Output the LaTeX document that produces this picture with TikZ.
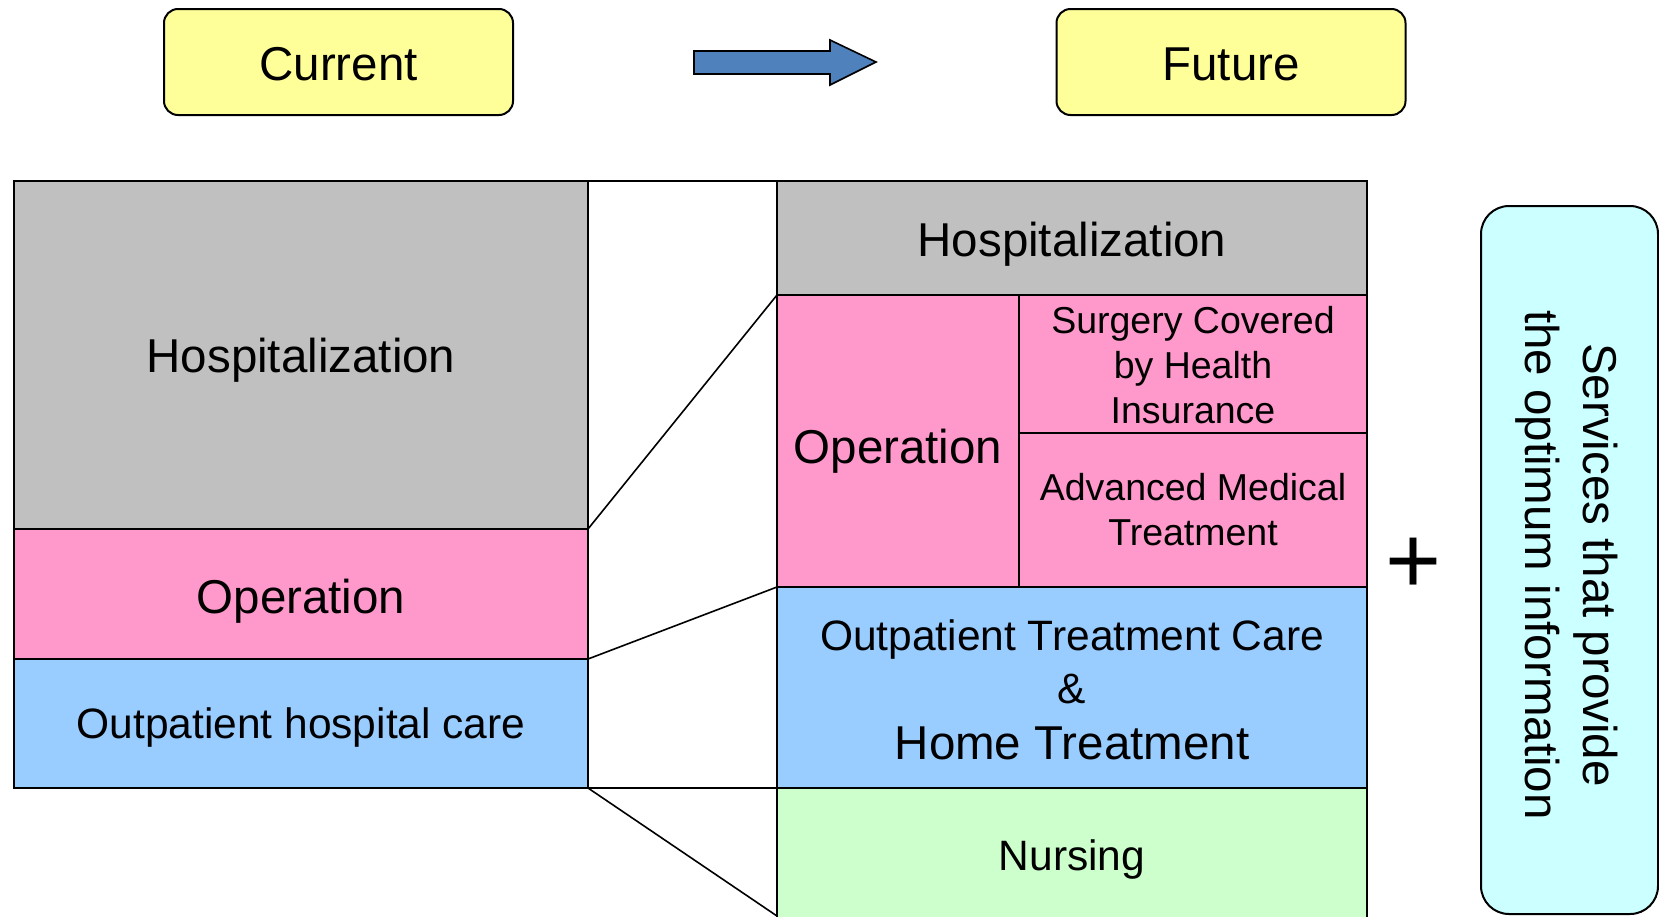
\documentclass[tikz,border=0pt]{standalone}
\usepackage{fontspec}
\setmainfont{Liberation Sans}
\definecolor{hospgrey}{HTML}{C0C0C0}
\definecolor{oppink}{HTML}{FF99CC}
\definecolor{outblue}{HTML}{99CCFF}
\definecolor{nursegreen}{HTML}{CCFFCC}
\definecolor{labelyellow}{HTML}{FFFF99}
\definecolor{infocyan}{HTML}{CCFFFF}
\definecolor{arrowblue}{HTML}{4F81BD}
\newcommand{\fsBig}{\fontsize{23.75pt}{28pt}\selectfont}
\newcommand{\fsMid}{\fontsize{21.25pt}{26.5pt}\selectfont}
\newcommand{\fsSmall}{\fontsize{18.75pt}{22.5pt}\selectfont}
\begin{document}
\begin{tikzpicture}[x=0.5pt,y=-0.5pt,
  blockbox/.style={draw=black, line width=1pt, inner sep=0pt, outer sep=0pt, align=center},
  % baseline sits at half the given height below the node centre
  baseline drop/.style={text depth=0pt, text height=#1},
  headbox/.style={blockbox, fill=labelyellow, rounded corners=7pt,
    minimum width=174.5pt, minimum height=53pt, font=\fsBig, baseline drop=18pt},
  boxtext/.style={inner sep=0pt, align=center},
  link/.style={draw=black, line width=0.8pt}]
\useasboundingbox (0,0) rectangle (1659,916);
\clip (0,0) rectangle (1659,916);

% headings and the arrow between them
\node[headbox] (current) at (338.5,62) {Current};
\node[headbox] (future) at (1231,62) {Future};
\draw[fill=arrowblue, line width=0.8pt, line join=miter]
  (694,51) -- (830,51) -- (830,40) -- (876,62) -- (830,85) -- (830,74) -- (694,74) -- cycle;

% current breakdown
\node[blockbox, fill=hospgrey, minimum width=287pt, minimum height=174pt, font=\fsBig,
  baseline drop=17.7pt] (lhosp) at (301,355) {Hospitalization};
\node[blockbox, fill=oppink, minimum width=287pt, minimum height=65pt, font=\fsBig,
  baseline drop=19pt] (lop) at (301,594) {Operation};
\node[blockbox, fill=outblue, minimum width=287pt, minimum height=64.5pt, font=\fsMid,
  baseline drop=14.5pt] (lout) at (301,723.5) {Outpatient hospital care};

% future breakdown
\node[blockbox, fill=hospgrey, minimum width=295pt, minimum height=57pt, font=\fsBig,
  baseline drop=18.7pt] (rhosp) at (1072,238) {Hospitalization};
\node[blockbox, fill=oppink, minimum width=121pt, minimum height=146pt, font=\fsBig,
  baseline drop=22pt] (rop) at (898,441) {Operation};
\node[blockbox, fill=oppink, minimum width=174pt, minimum height=69pt] (rsurg) at (1193,364) {};
\node[boxtext, font=\fsSmall] (rsurgtext) at (1193,365) {Surgery Covered\\by Health\\Insurance};
\node[blockbox, fill=oppink, minimum width=174pt, minimum height=77pt, font=\fsSmall]
  (radv) at (1193,510) {Advanced Medical\\Treatment};
\node[blockbox, fill=outblue, minimum width=295pt, minimum height=100.5pt] (rout) at (1072,687.5) {};
\node[boxtext, font=\fsMid] (routtext) at (1072,690)
  {Outpatient Treatment Care\\\&\\[1.7pt]{\fsBig Home Treatment}};
\node[blockbox, fill=nursegreen, minimum width=295pt, minimum height=67pt, font=\fsMid,
  baseline drop=15pt] (rnurse) at (1072,855) {Nursing};
\coordinate (nursebase) at (777,916);

% expansion lines from current to future
\draw[link] (lhosp.north east) -- (rhosp.north west);
\draw[link] (lhosp.south east) -- (rop.north west);
\draw[link] (lop.south east) -- (rout.north west);
\draw[link] (lout.south east) -- (rout.south west);
\draw[link] (lout.south east) -- (nursebase);

% plus and information services
\node[inner sep=0pt, font=\fontsize{48pt}{48pt}\selectfont] (plus) at (1414,566) {+};
\node[blockbox, fill=infocyan, rounded corners=14pt,
  minimum width=88.5pt, minimum height=354pt] (info) at (1569.5,560) {};
\node[boxtext, rotate=-90, font=\fontsize{23.75pt}{29pt}\selectfont]
  (infotext) at (1567,565) {Services that provide\\the optimum information};
\end{tikzpicture}
\end{document}
